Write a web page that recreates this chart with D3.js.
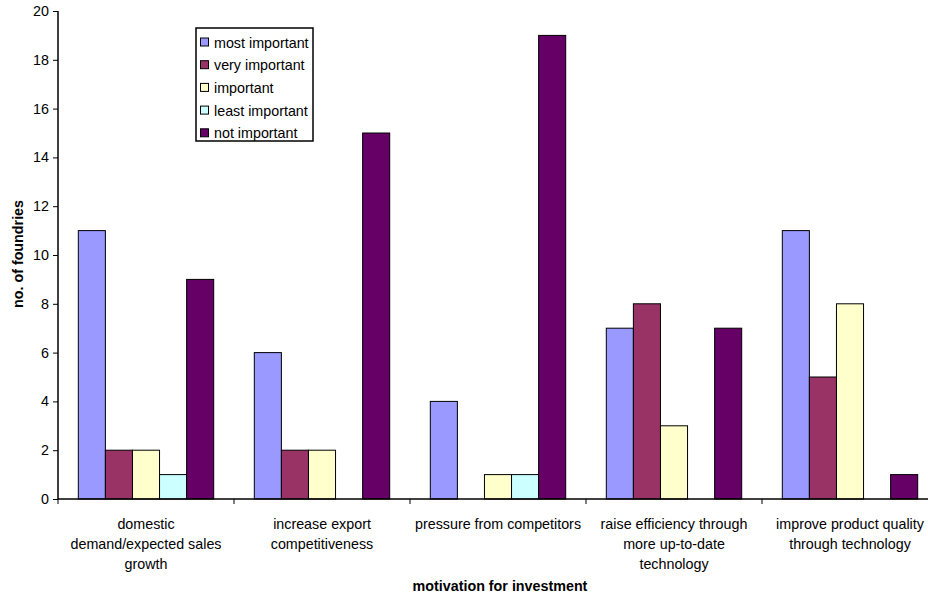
<!DOCTYPE html>
<html>
<head>
<meta charset="utf-8">
<script src="https://cdn.jsdelivr.net/npm/d3@7"></script>
<style>
  body { margin: 0; background: #fff; }
  svg { font-family: "Liberation Sans", Arial, sans-serif; }
</style>
</head>
<body>
<div id="chart"></div>
<script>
// Data
var categories = [
    ["domestic", "demand/expected sales", "growth"],
    ["increase export", "competitiveness"],
    ["pressure from competitors"],
    ["raise efficiency through", "more up-to-date", "technology"],
    ["improve product quality", "through technology"]
];
var seriesNames = ["most important", "very important", "important", "least important", "not important"];
var mostImportant = [11, 6, 4, 7, 11];
var veryImportant = [2, 2, 0, 8, 5];
var important = [2, 2, 1, 3, 8];
var leastImportant = [1, 0, 1, 0, 0];
var notImportant = [9, 15, 19, 7, 1];
var yTicks = [0, 2, 4, 6, 8, 10, 12, 14, 16, 18, 20];
var colors = ["#9999ff", "#993366", "#ffffcc", "#ccffff", "#660066"];

var seriesValues = [mostImportant, veryImportant, important, leastImportant, notImportant];

var fontSize = 14.3;
var width = 928, height = 595;
var margins = { top: 11, left: 58, right: -10, bottom: 96 };
var plotW = width - margins.left - margins.right,
    plotH = height - margins.top - margins.bottom;

var svg = d3.select("#chart")
    .append("svg")
    .attr("width", width)
    .attr("height", height);

var g = svg.append("g")
    .attr("transform", "translate(" + margins.left + "," + margins.top + ")");

var x0 = d3.scaleBand()
    .domain(d3.range(categories.length))
    .range([0, plotW]);

// Excel-like gap width of 150%
var x1 = d3.scaleBand()
    .domain(d3.range(seriesNames.length))
    .range([0, x0.bandwidth()])
    .paddingOuter(0.75)
    .paddingInner(0);

var y = d3.scaleLinear()
    .domain([0, 20])
    .range([plotH, 0]);

// Bars
var groups = g.selectAll(".cat")
    .data(categories)
    .enter()
    .append("g")
    .attr("class", "cat")
    .attr("transform", function (d, i) { return "translate(" + x0(i) + ",0)"; });

groups.selectAll("rect")
    .data(function (d, i) {
        return seriesValues.map(function (vals, s) { return { s: s, v: vals[i] }; });
    })
    .enter()
    .filter(function (d) { return d.v > 0; })
    .append("rect")
    .attr("x", function (d) { return x1(d.s); })
    .attr("y", function (d) { return y(d.v); })
    .attr("width", x1.bandwidth())
    .attr("height", function (d) { return y(0) - y(d.v); })
    .attr("fill", function (d) { return colors[d.s]; })
    .attr("stroke", "#000")
    .attr("stroke-width", 1);

// Y axis
var yAxis = g.append("g")
    .call(d3.axisLeft(y).tickValues(yTicks).tickSize(5).tickPadding(4));
yAxis.select(".domain").attr("stroke-width", 1.5).attr("d", "M0," + plotH + "V0");
yAxis.selectAll(".tick line").attr("stroke-width", 1);
yAxis.selectAll("text").attr("font-size", fontSize).attr("fill", "#000");

// X axis with category tick marks between groups
var xAxis = g.append("g").attr("transform", "translate(0," + plotH + ")");
xAxis.append("line")
    .attr("x1", 0).attr("x2", plotW)
    .attr("stroke", "#000").attr("stroke-width", 1.5);
xAxis.selectAll(".tk")
    .data(d3.range(categories.length + 1))
    .enter()
    .append("line")
    .attr("x1", function (i) { return i * x0.step(); })
    .attr("x2", function (i) { return i * x0.step(); })
    .attr("y1", 0).attr("y2", 5)
    .attr("stroke", "#000");

xAxis.selectAll(".lbl")
    .data(categories)
    .enter()
    .append("text")
    .attr("text-anchor", "middle")
    .attr("font-size", fontSize)
    .attr("x", function (d, i) { return x0(i) + x0.bandwidth() / 2; })
    .attr("y", 30)
    .each(function (lines) {
        var t = d3.select(this);
        lines.forEach(function (line, k) {
            t.append("tspan")
                .attr("x", t.attr("x"))
                .attr("dy", k === 0 ? 0 : 20)
                .text(line);
        });
    });

// Axis titles
svg.append("text")
    .attr("x", 500)
    .attr("y", 591)
    .attr("text-anchor", "middle")
    .attr("font-size", fontSize)
    .attr("font-weight", "bold")
    .text("motivation for investment");

svg.append("text")
    .attr("transform", "translate(23,254) rotate(-90)")
    .attr("text-anchor", "middle")
    .attr("font-size", fontSize)
    .attr("font-weight", "bold")
    .text("no. of foundries");

// Legend
var legend = svg.append("g").attr("transform", "translate(196,28)");
legend.append("rect")
    .attr("width", 117).attr("height", 113)
    .attr("fill", "#fff").attr("stroke", "#000").attr("stroke-width", 1.5);
var items = legend.selectAll(".item")
    .data(seriesNames)
    .enter()
    .append("g")
    .attr("transform", function (d, i) { return "translate(0," + (14.5 + i * 22.7) + ")"; });
items.append("rect")
    .attr("x", 4.5).attr("y", -4.5)
    .attr("width", 8).attr("height", 8)
    .attr("fill", function (d, i) { return colors[i]; })
    .attr("stroke", "#000");
items.append("text")
    .attr("x", 18).attr("y", 5)
    .attr("font-size", fontSize)
    .text(function (d) { return d; });
</script>
</body>
</html>
